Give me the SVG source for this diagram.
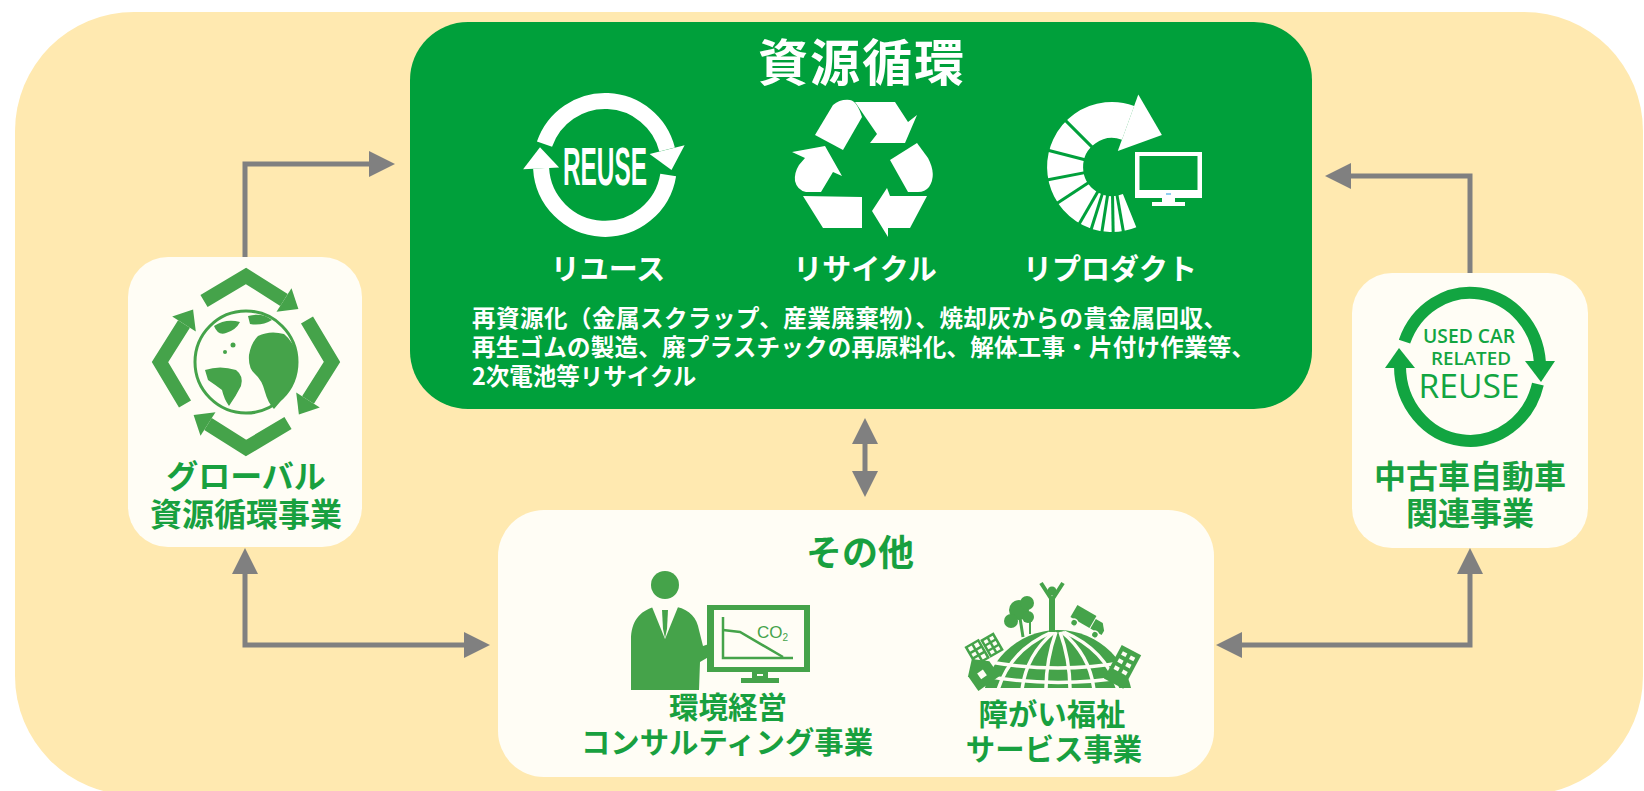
<svg xmlns="http://www.w3.org/2000/svg" width="1644" height="791" viewBox="0 0 1644 791">
  <style>
    .jp { font-family: "Noto Sans CJK JP", "Noto Sans CJK SC", sans-serif; font-weight: 700; }
    .white { fill: #ffffff; }
    .gtext { fill: #18a03f; }
    .panel { fill: #fffdf5; }
    .conn { fill: none; stroke: #808080; stroke-width: 5; }
    .icon { fill: #45a34a; }
    .ring-w { fill: none; stroke: #ffffff; stroke-width: 16; }
    .ring-g { fill: none; stroke: #12a541; stroke-width: 12; }
  </style>
  <defs>
    <marker id="head" viewBox="0 0 26 26" refX="0" refY="13" markerWidth="26" markerHeight="26" markerUnits="userSpaceOnUse" orient="auto-start-reverse">
      <path d="M0,0 L26,13 L0,26 Z" fill="#808080"/>
    </marker>
    <clipPath id="domeClip">
      <rect x="970" y="600" width="180" height="88"/>
    </clipPath>
  </defs>

  <!-- backdrop -->
  <rect x="15" y="12" width="1628" height="783" rx="119" ry="119" fill="#ffe9b0"/>

  <!-- connectors -->
  <g id="connectors">
    <path class="conn" d="M245,257 L245,164 L369,164" marker-end="url(#head)"/>
    <path class="conn" d="M1470,273 L1470,176 L1351,176" marker-end="url(#head)"/>
    <path class="conn" d="M865,444 L865,471" marker-start="url(#head)" marker-end="url(#head)"/>
    <path class="conn" d="M245,574 L245,645 L464,645" marker-start="url(#head)" marker-end="url(#head)"/>
    <path class="conn" d="M1470,574 L1470,645 L1242,645" marker-start="url(#head)" marker-end="url(#head)"/>
  </g>

  <!-- resource circulation -->
  <g id="node-circulation">
    <rect x="410" y="22" width="902" height="387" rx="58" ry="58" fill="#00a03b"/>
    <text class="jp white" x="862" y="81" font-size="50" text-anchor="middle" letter-spacing="2">資源循環</text>

    <!-- reuse ring -->
    <g id="icon-reuse">
      <path class="ring-w" d="M544.5,144.2 A64,64 0 0 1 667.1,149.5"/>
      <polygon class="white" points="649.6,153.9 684.6,145.2 671.5,170"/>
      <path class="ring-w" d="M668.2,175 A64,64 0 0 1 541.1,168.3"/>
      <polygon class="white" points="559.1,167.4 523.1,169.3 540,147.3"/>
      <text x="605" y="185" font-family="Liberation Sans, Arial, sans-serif" font-weight="700" font-size="54" text-anchor="middle" textLength="84" lengthAdjust="spacingAndGlyphs" class="white">REUSE</text>
    </g>

    <!-- recycle symbol -->
    <g id="icon-recycle" class="white">
      <path d="M815,135 L833,105 Q840,99 850,100 Q857,101 862,117 L843,150 Z"/>
      <path d="M855,102 L895,102 L908,122 L917,115 L905,143 L870,143 L877,134 Z"/>
      <path d="M890,160 L917,143 L928,158 Q937,175 929,187 Q925,192 918,192 L908,192 Z"/>
      <path d="M927,196 L910,228 L888,228 L888,237 L872,211 L887,188 L890,196 Z"/>
      <path d="M803,196 L862,197 L862,228 L823,228 Z"/>
      <path d="M825,146 L842,176 L833,172 L821,192 L806,192 Q797,190 795,181 Q794,173 799,165 L805,158 L792,152 Z"/>
    </g>

    <!-- reproduct: segmented arrow and monitor -->
    <g id="icon-reproduct">
      <path d="M1129.6,210.6 A47,47 0 1 1 1128.1,122.8" fill="none" stroke="#ffffff" stroke-width="36"/>
      <polygon class="white" points="1117.8,151 1138.3,94.6 1161.9,135.1"/>
      <g stroke="#00a03b" stroke-width="3">
        <line x1="1116.7" y1="193.6" x2="1123.8" y2="234"/>
        <line x1="1112.5" y1="194" x2="1113.2" y2="235"/>
        <line x1="1107.8" y1="193.7" x2="1101.5" y2="234.5"/>
        <line x1="1102.8" y1="192.4" x2="1090.4" y2="231.7"/>
        <line x1="1098.5" y1="190.4" x2="1078" y2="226"/>
        <line x1="1090.3" y1="181.4" x2="1056" y2="204"/>
        <line x1="1086.2" y1="172.4" x2="1045.5" y2="180.3"/>
        <line x1="1085.9" y1="160" x2="1046" y2="149.7"/>
        <line x1="1092.9" y1="147.9" x2="1063.9" y2="118.9"/>
      </g>
      <rect x="1135" y="152" width="67" height="46" fill="#ffffff"/>
      <rect x="1139.5" y="156" width="58" height="34" fill="#00a03b"/>
      <rect x="1166" y="193" width="5" height="2" fill="#8fcdf0"/>
      <rect x="1162" y="198" width="13" height="5" fill="#ffffff"/>
      <rect x="1152" y="202" width="33" height="4" fill="#ffffff"/>
    </g>

    <text class="jp white" x="608" y="280" font-size="29" text-anchor="middle">リユース</text>
    <text class="jp white" x="865" y="280" font-size="29" text-anchor="middle">リサイクル</text>
    <text class="jp white" x="1110" y="280" font-size="29" text-anchor="middle">リプロダクト</text>

    <text class="jp white" font-size="23.5">
      <tspan x="472" y="327" textLength="755" lengthAdjust="spacing">再資源化（金属スクラップ、産業廃棄物）、焼却灰からの貴金属回収、</tspan>
      <tspan x="472" y="356" textLength="783" lengthAdjust="spacing">再生ゴムの製造、廃プラスチックの再原料化、解体工事・片付け作業等、</tspan>
      <tspan x="472" y="385">2次電池等リサイクル</tspan>
    </text>
  </g>

  <!-- global resource circulation -->
  <g id="node-global">
    <rect class="panel" x="128" y="257" width="234" height="290" rx="40" ry="40"/>
    <g id="icon-globe">
      <circle cx="246" cy="362" r="51" fill="#fffdf5" stroke="#45a34a" stroke-width="3"/>
      <!-- land masses -->
      <path class="icon" d="M258,336 Q270,330 284,334 Q294,342 297,356 Q298,372 291,385 Q284,398 274,409 Q268,403 265,392 Q262,380 255,374 Q248,368 249,355 Q251,343 258,336 Z"/>
      <path class="icon" d="M205,370 Q220,365 236,370 Q244,376 241,386 Q236,396 229,406 Q224,399 222,390 Q214,384 208,380 Z"/>
      <path class="icon" d="M214,326 Q226,318 240,322 Q236,330 226,333 Q218,336 214,326 Z"/>
      <path class="icon" d="M248,316 Q262,312 272,320 Q262,326 250,324 Z"/>
      <circle class="icon" cx="233" cy="345" r="2.5"/>
      <circle class="icon" cx="225" cy="352" r="2"/>
      <g id="globe-arrow">
        <polyline points="204,301 246,276 284,300" fill="none" stroke="#45a34a" stroke-width="14" stroke-linejoin="miter"/>
        <polygon class="icon" points="276.5,311.8 291.5,288.2 298.4,309.1"/>
      </g>
      <use href="#globe-arrow" transform="rotate(90 246 362)"/>
      <use href="#globe-arrow" transform="rotate(180 246 362)"/>
      <use href="#globe-arrow" transform="rotate(270 246 362)"/>
    </g>
    <text class="jp gtext" x="246" y="488" font-size="32" text-anchor="middle">グローバル</text>
    <text class="jp gtext" x="246" y="526" font-size="32" text-anchor="middle">資源循環事業</text>
  </g>

  <!-- used car business -->
  <g id="node-usedcar">
    <rect class="panel" x="1352" y="273" width="236" height="275" rx="40" ry="40"/>
    <g id="icon-usedcar">
      <path class="ring-g" d="M1404.5,341.6 A70,75 0 0 1 1539.9,362.1"/>
      <polygon points="1525,361 1555,361 1541,382" fill="#12a541"/>
      <path class="ring-g" d="M1537.9,384.1 A70,75 0 0 1 1400,366"/>
      <polygon points="1385,368 1415,368 1399,348" fill="#12a541"/>
      <g font-family="Open Sans, Liberation Sans, sans-serif" fill="#12a541" text-anchor="middle">
        <text x="1469" y="343" font-size="20" font-weight="600" textLength="92" lengthAdjust="spacingAndGlyphs">USED CAR</text>
        <text x="1471" y="365" font-size="18.5" font-weight="600" textLength="80" lengthAdjust="spacingAndGlyphs">RELATED</text>
        <text x="1469" y="398" font-size="32" font-weight="500" textLength="101" lengthAdjust="spacingAndGlyphs">REUSE</text>
      </g>
    </g>
    <text class="jp gtext" x="1470" y="488" font-size="32" text-anchor="middle">中古車自動車</text>
    <text class="jp gtext" x="1470" y="525" font-size="32" text-anchor="middle">関連事業</text>
  </g>

  <!-- other businesses -->
  <g id="node-other">
    <rect class="panel" x="498" y="510" width="716" height="267" rx="46" ry="46"/>
    <text class="jp gtext" x="860" y="566" font-size="36" text-anchor="middle">その他</text>

    <!-- consultant at screen -->
    <g id="icon-consulting">
      <circle class="icon" cx="665" cy="585" r="14"/>
      <path class="icon" d="M631,690 L631,640 C631,621 640,611 654,607 L677,607 C690,610 697,618 699,630 L703,646 L709,644 L712,655 L700,662 L699,690 Z"/>
      <polygon points="652,607 665,639 678,607" fill="#fffdf5"/>
      <polygon class="icon" points="662,610 668,610 667,629 665,638 663,629"/>
      <rect class="icon" x="707" y="605" width="103" height="67"/>
      <rect x="714" y="610" width="90" height="57" fill="#fffdf5"/>
      <rect class="icon" x="752" y="672" width="16" height="6"/>
      <rect x="757" y="674" width="6" height="2" fill="#fffdf5"/>
      <rect class="icon" x="741" y="678" width="38" height="5"/>
      <polyline points="723,617 723,658 793,658" fill="none" stroke="#45a34a" stroke-width="2.5"/>
      <polyline points="723,630 740,632 783,657" fill="none" stroke="#45a34a" stroke-width="2.5"/>
      <text x="757" y="638" font-family="Liberation Sans, Arial, sans-serif" font-size="17" fill="#45a34a">CO<tspan font-size="10" dy="3">2</tspan></text>
    </g>
    <text class="jp gtext" x="728" y="718" font-size="29.5" text-anchor="middle">環境経営</text>
    <text class="jp gtext" x="727" y="753" font-size="29.4" text-anchor="middle">コンサルティング事業</text>

    <!-- welfare: globe with town -->
    <g id="icon-welfare">
      <g clip-path="url(#domeClip)">
        <circle class="icon" cx="1058" cy="705" r="75"/>
        <g fill="none" stroke="#fffdf5" stroke-width="3.5">
          <path d="M990,662 Q1058,674 1126,662"/>
          <path d="M985,676 Q1058,689 1131,676"/>
          <path d="M1052,632 Q1010,650 998,690"/>
          <path d="M1054,632 Q1026,655 1022,690"/>
          <path d="M1056,632 Q1046,660 1046,690"/>
          <path d="M1060,632 Q1070,660 1070,690"/>
          <path d="M1062,632 Q1090,655 1094,690"/>
          <path d="M1064,632 Q1106,650 1118,690"/>
        </g>
      </g>
      <!-- person with raised arms -->
      <circle class="icon" cx="1052" cy="591" r="4.5"/>
      <polyline points="1041,583 1052,600 1063,583" fill="none" stroke="#45a34a" stroke-width="4" stroke-linejoin="round"/>
      <line x1="1052" y1="597" x2="1052" y2="632" stroke="#45a34a" stroke-width="6"/>
      <!-- tree -->
      <line x1="1020" y1="618" x2="1023" y2="637" stroke="#45a34a" stroke-width="3"/>
      <line x1="1030" y1="622" x2="1030" y2="634" stroke="#45a34a" stroke-width="2"/>
      <circle class="icon" cx="1019" cy="610" r="10"/>
      <circle class="icon" cx="1027" cy="603" r="7"/>
      <circle class="icon" cx="1011" cy="621" r="7"/>
      <circle class="icon" cx="1028" cy="617" r="6"/>
      <!-- truck -->
      <g transform="rotate(30 1086 626)">
        <rect class="icon" x="1068" y="612" width="22" height="14"/>
        <path class="icon" d="M1091,615 L1099,615 L1104,621 L1104,626 L1091,626 Z"/>
        <circle class="icon" cx="1074" cy="629" r="3.5" stroke="#fffdf5" stroke-width="1.5"/>
        <circle class="icon" cx="1098" cy="629" r="3.5" stroke="#fffdf5" stroke-width="1.5"/>
      </g>
      <!-- solar panels -->
      <g transform="rotate(-30 985 648)" fill="#fffdf5" stroke="#45a34a" stroke-width="2.5">
        <rect x="969" y="638" width="14" height="20"/>
        <line x1="976" y1="638" x2="976" y2="658"/>
        <line x1="969" y1="645" x2="983" y2="645"/>
        <line x1="969" y1="651" x2="983" y2="651"/>
        <rect x="986" y="640" width="13" height="18"/>
        <line x1="992.5" y1="640" x2="992.5" y2="658"/>
        <line x1="986" y1="646" x2="999" y2="646"/>
        <line x1="986" y1="652" x2="999" y2="652"/>
      </g>
      <!-- house -->
      <g transform="rotate(-35 981 672)">
        <path class="icon" d="M968,668 L981,656 L994,668 L994,686 L968,686 Z"/>
        <rect x="977" y="671" width="7" height="7" fill="#fffdf5"/>
      </g>
      <!-- building -->
      <g transform="rotate(28 1123 666)">
        <rect class="icon" x="1112" y="648" width="22" height="38"/>
        <g fill="#fffdf5">
          <rect x="1116" y="653" width="5" height="4"/>
          <rect x="1125" y="653" width="5" height="4"/>
          <rect x="1116" y="661" width="5" height="4"/>
          <rect x="1125" y="661" width="5" height="4"/>
          <rect x="1116" y="669" width="5" height="4"/>
          <rect x="1125" y="669" width="5" height="4"/>
        </g>
      </g>
    </g>
    <text class="jp gtext" x="1052" y="725" font-size="29.4" text-anchor="middle">障がい福祉</text>
    <text class="jp gtext" x="1054" y="760" font-size="29.4" text-anchor="middle">サービス事業</text>
  </g>
</svg>
